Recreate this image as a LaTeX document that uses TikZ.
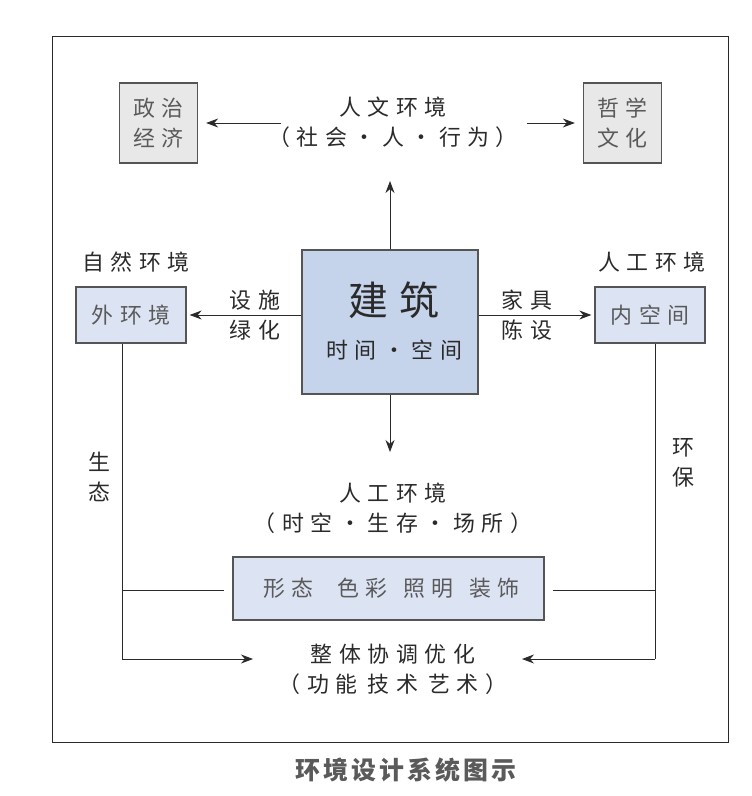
\documentclass[tikz,border=0pt]{standalone}
\usepackage{fontspec}
\newfontfamily\cjk[LetterSpace=30]{Noto Sans CJK SC}
\newfontfamily\cjkbox[LetterSpace=27]{Noto Sans CJK SC}
\newfontfamily\cjkcap[LetterSpace=12]{Noto Sans CJK SC}
\usetikzlibrary{arrows.meta}
\definecolor{boxblue}{HTML}{C5D3EB}
\definecolor{lightblue}{HTML}{DCE3F3}
\definecolor{boxgray}{HTML}{E8E8E8}
\definecolor{txt}{HTML}{2A2A2A}
\definecolor{graytxt}{HTML}{5A5A5A}
\definecolor{edge}{HTML}{555555}
\tikzset{
  lbl/.style={text=txt, align=center, inner sep=0pt},
  graybox/.style={draw=edge, line width=1.3bp, fill=boxgray, text=graytxt, align=center, inner sep=0pt, minimum width=78bp, minimum height=80bp},
  bluebox/.style={draw=edge, line width=1.3bp, fill=lightblue, text=graytxt, align=center, inner sep=0pt, minimum width=110bp, minimum height=56bp},
  bigbox/.style={draw=edge, line width=1.3bp, fill=boxblue, inner sep=0pt, minimum width=176bp, minimum height=144bp},
  conn/.style={draw=txt, line width=0.9bp},
  arr/.style={conn, -{Stealth[length=12bp,width=9bp]}},
}
\begin{document}
\begin{tikzpicture}[x=1bp,y=-1bp, font=\cjk\fontsize{22}{30}\selectfont]
\useasboundingbox (0,0) rectangle (752,796);
\draw[draw=txt, line width=1bp] (52,37) rectangle (728,742);

% top row
\node[lbl] (rw) at (393,122) {人文环境\\（社会・人・行为）};
\node[graybox] (zz) at (158.5,123) {政治\\经济};
\node[graybox] (zx) at (622.5,123) {哲学\\文化};
\coordinate (rwl) at (281,123);
\coordinate (rwr) at (527,123);
\draw[arr, shorten >=8bp] (rwl) -- (zz.east);
\draw[arr, shorten >=8bp] (rwr) -- (zx.west);

% centre
\node[bigbox] (jz) at (390,322) {};
\node[lbl, font=\cjk\fontsize{40}{44}\selectfont] (jzt) at (394,300) {建筑};
\node[lbl] (sk) at (394,350) {时间・空间};
\coordinate (up) at (390,181);
\draw[arr] (jz.north) -- (up);

% side boxes
\node[lbl] (zr) at (136,262) {自然环境};
\node[bluebox] (wh) at (131,315) {外环境};
\node[lbl] (rg) at (652,262) {人工环境};
\node[bluebox] (nk) at (650,315) {内空间};
\node[lbl] (ss) at (255,315) {设施\\绿化};
\node[lbl] (jj) at (527,315) {家具\\陈设};
\draw[arr, shorten >=3bp] (jz.west |- wh.east) -- (wh.east);
\draw[arr, shorten >=3bp] (jz.east |- nk.west) -- (nk.west);

% lower part
\node[lbl] (rg2) at (393,508) {人工环境\\（时空・生存・场所）};
\coordinate (down) at (390,452);
\draw[arr] (jz.south) -- (down);
\node[draw=edge, line width=1.3bp, fill=lightblue, text=graytxt, inner sep=0pt, minimum width=311bp, minimum height=63bp, font=\cjkbox\fontsize{22}{30}\selectfont] (xt) at (388.5,588.5) {\hspace{6bp}形态\hspace{24bp}色彩\hspace{16bp}照明\hspace{16bp}装饰};
\node[lbl] (zt) at (393,669) {整体协调优化\\（功能\hspace{10bp}技术\hspace{10bp}艺术）};
\node[lbl] (st) at (99,477) {生\\态};
\node[lbl] (hb) at (683,463) {环\\保};

\coordinate (lb) at (122,659);
\coordinate (rb) at (655,659);
\coordinate (la) at (253,659);
\coordinate (ra) at (522,659);
\draw[conn] (wh.south -| lb) -- (lb);
\draw[arr] (lb) -- (la);
\draw[conn] (nk.south -| rb) -- (rb);
\draw[arr] (rb) -- (ra);
\coordinate (lm) at (122,590);
\coordinate (rm) at (655,590);
\draw[conn, shorten >=8bp] (lm) -- (xt.west |- lm);
\draw[conn, shorten >=8bp] (rm) -- (xt.east |- rm);

% caption
\node[lbl, text=graytxt, font=\cjkcap\bfseries\fontsize{25}{28}\selectfont] (cap) at (406,770) {环境设计系统图示};
\end{tikzpicture}
\end{document}
